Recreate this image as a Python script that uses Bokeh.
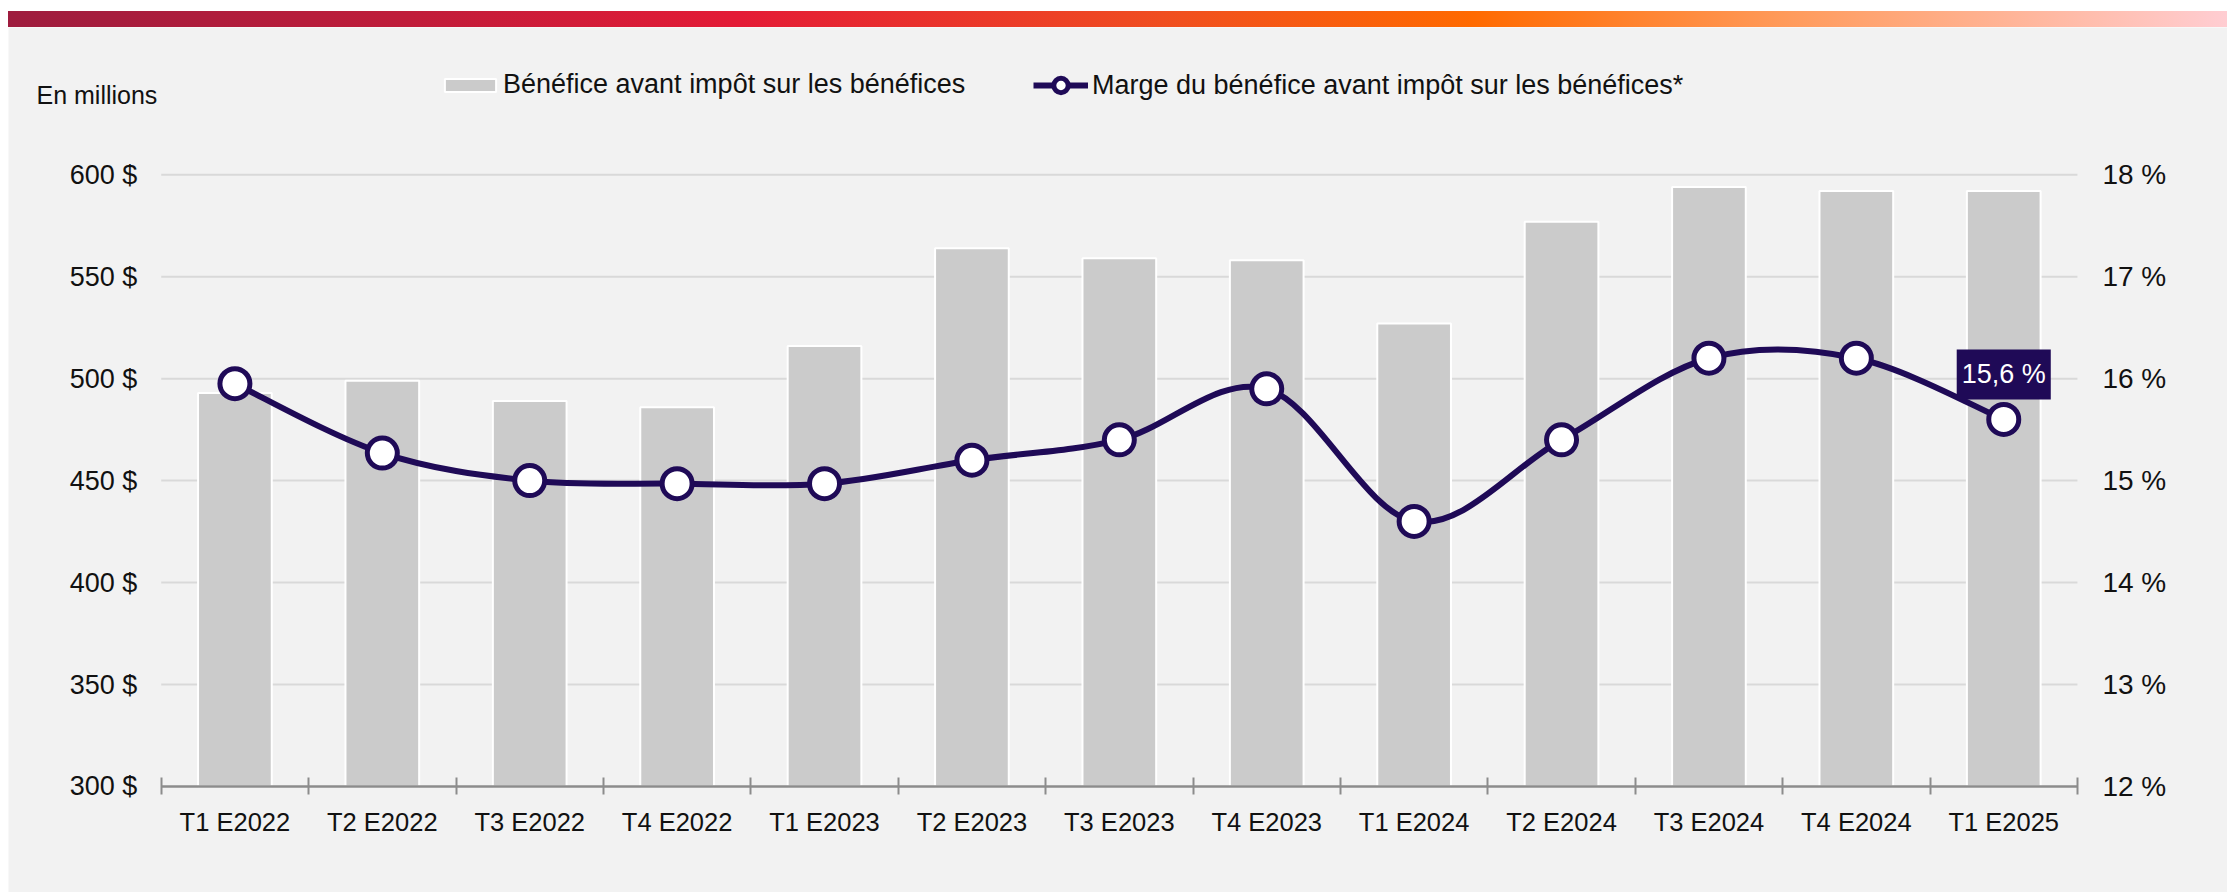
import numpy as np
from bokeh.plotting import figure
from bokeh.layouts import column
from bokeh.models import (Range1d, FixedTicker, Legend, LegendItem, Label,
                          ColumnDataSource, Div)
from bokeh.core.properties import value
from bokeh.embed import file_html
from bokeh.resources import INLINE

# ---------------- data ----------------
quarters = ["T1 E2022", "T2 E2022", "T3 E2022", "T4 E2022",
            "T1 E2023", "T2 E2023", "T3 E2023", "T4 E2023",
            "T1 E2024", "T2 E2024", "T3 E2024", "T4 E2024", "T1 E2025"]
benefice = [493, 499, 489, 486, 516, 564, 559, 558, 527, 577, 594, 592, 592]
marge = [15.95, 15.27, 15.0, 14.97, 14.97, 15.2, 15.4, 15.9, 14.6, 15.4, 16.2, 16.2, 15.6]
left_ticks = [300, 350, 400, 450, 500, 550, 600]
left_tick_labels = ["300 $", "350 $", "400 $", "450 $", "500 $", "550 $", "600 $"]
right_ticks = [12, 13, 14, 15, 16, 17, 18]
right_tick_labels = ["12 %", "13 %", "14 %", "15 %", "16 %", "17 %", "18 %"]
last_label = "15,6 %"
bar_name = "Bénéfice avant impôt sur les bénéfices"
line_name = "Marge du bénéfice avant impôt sur les bénéfices*"
unit_label = "En millions"

FONT = "Liberation Sans"
BG = "#f2f2f2"
PURPLE = "#1f0a57"
TXT = "#111111"
W = 2219
H = 865

# ---------------- gradient strip ----------------
strip = Div(text="", width=W, height=16, margin=(0, 0, 0, 0),
            styles={"background": "linear-gradient(90deg, #9e1c3e 0%, #c01c3a 18%, "
                                  "#e41b36 33%, #f04e20 52%, #ff6a00 66%, "
                                  "#ff9a5a 80%, #ffcdd2 100%)"})

# ---------------- main chart ----------------
n = len(quarters)
centers = [i + 0.5 for i in range(n)]
bounds = list(range(n + 1))
Y0, Y1 = 248.0, 672.2          # visible value span of the frame (axis sits at 300)

p = figure(width=W, height=H, x_range=Range1d(-1.036, n + 1.018),
           y_range=Range1d(Y0, Y1), y_axis_location=None,
           toolbar_location=None, output_backend="svg",
           min_border_left=0, min_border_right=0, min_border_top=0,
           min_border_bottom=0, background_fill_color=BG, border_fill_color=BG,
           outline_line_color=None, margin=(0, 0, 0, 0))
p.extra_y_ranges = {"pct": Range1d(12 + (Y0 - 300) / 50.0, 12 + (Y1 - 300) / 50.0)}
p.grid.visible = False

# grid lines (only across the category span)
p.segment(x0=[0] * (len(left_ticks) - 1), x1=[n] * (len(left_ticks) - 1),
          y0=left_ticks[1:], y1=left_ticks[1:], line_color="#d9d9d9",
          line_width=2, level="underlay")

# x axis, pinned at the 300 $ baseline
xa = p.xaxis[0]
xa.fixed_location = left_ticks[0]
xa.bounds = (0, n)
xa.ticker = FixedTicker(ticks=centers, minor_ticks=bounds)
xa.major_label_overrides = {c: q for c, q in zip(centers, quarters)}
xa.major_tick_line_color = None
xa.major_tick_out = 8
xa.major_tick_in = 0
xa.minor_tick_line_color = "#8c8c8c"
xa.minor_tick_line_width = 2
xa.minor_tick_in = 9
xa.minor_tick_out = 8
xa.axis_line_color = "#8c8c8c"
xa.axis_line_width = 2.5
xa.major_label_text_font = FONT
xa.major_label_text_font_size = "25.5px"
xa.major_label_text_color = TXT
xa.major_label_standoff = 14

# y tick labels (left: $, right: %)
p.text(x=[0] * len(left_ticks), y=left_ticks, text=left_tick_labels,
       x_offset=-24, text_align="right", text_baseline="middle",
       text_font=value(FONT), text_font_size="27px", text_color=TXT)
p.text(x=[n] * len(right_ticks), y=right_ticks, text=right_tick_labels,
       y_range_name="pct", x_offset=25, text_align="left", text_baseline="middle",
       text_font=value(FONT), text_font_size="28px", text_color=TXT)

# bars
bar_src = ColumnDataSource(dict(x=centers, top=benefice))
bars = p.vbar(x="x", top="top", bottom=left_ticks[0], width=0.5, source=bar_src,
              fill_color="#cbcbcb", line_color="white", line_width=2)

# smooth line (Catmull-Rom -> cubic bezier)
px = np.array(centers, dtype=float)
py = np.array(marge, dtype=float)
x0, y0, x1, y1, cx0, cy0, cx1, cy1 = [], [], [], [], [], [], [], []
for i in range(n - 1):
    a = max(i - 1, 0)
    d = min(i + 2, n - 1)
    x0.append(px[i]); y0.append(py[i])
    x1.append(px[i + 1]); y1.append(py[i + 1])
    cx0.append(px[i] + (px[i + 1] - px[a]) / 6.0)
    cy0.append(py[i] + (py[i + 1] - py[a]) / 6.0)
    cx1.append(px[i + 1] - (px[d] - px[i]) / 6.0)
    cy1.append(py[i + 1] - (py[d] - py[i]) / 6.0)
curve = p.bezier(x0=x0, y0=y0, x1=x1, y1=y1, cx0=cx0, cy0=cy0, cx1=cx1, cy1=cy1,
                 y_range_name="pct", line_color=PURPLE, line_width=6)
pts = p.scatter(x=centers, y=marge, y_range_name="pct", size=30,
                fill_color="white", line_color=PURPLE, line_width=5)

# last value label
p.add_layout(Label(x=centers[-1], y=marge[-1], y_range_name="pct", y_offset=45,
                   text=last_label, text_align="center", text_baseline="middle",
                   text_font=FONT, text_font_size="27px", text_color="white",
                   background_fill_color=PURPLE, padding=(5, 10)))

# unit label
p.add_layout(Label(x=28, y=798, x_units="screen", y_units="screen",
                   text=unit_label, text_align="left", text_baseline="middle",
                   text_font=FONT, text_font_size="25px", text_color=TXT))

# legends
leg_common = dict(orientation="horizontal", padding=0, margin=0,
                  border_line_color=None, background_fill_alpha=0,
                  label_text_font=FONT, label_text_font_size="27px",
                  label_text_color=TXT)
legend1 = Legend(items=[LegendItem(label=bar_name, renderers=[bars])],
                 location=(430, 792), glyph_width=64, glyph_height=16,
                 label_standoff=1, **leg_common)
legend2 = Legend(items=[LegendItem(label=line_name, renderers=[curve, pts])],
                 location=(1025, 789), glyph_width=55, glyph_height=36,
                 label_standoff=4, **leg_common)
p.add_layout(legend1, "center")
p.add_layout(legend2, "center")

layout = column(strip, p, spacing=0, margin=(11, 0, 0, 8))
open("out.html", "w").write(file_html(layout, INLINE))
